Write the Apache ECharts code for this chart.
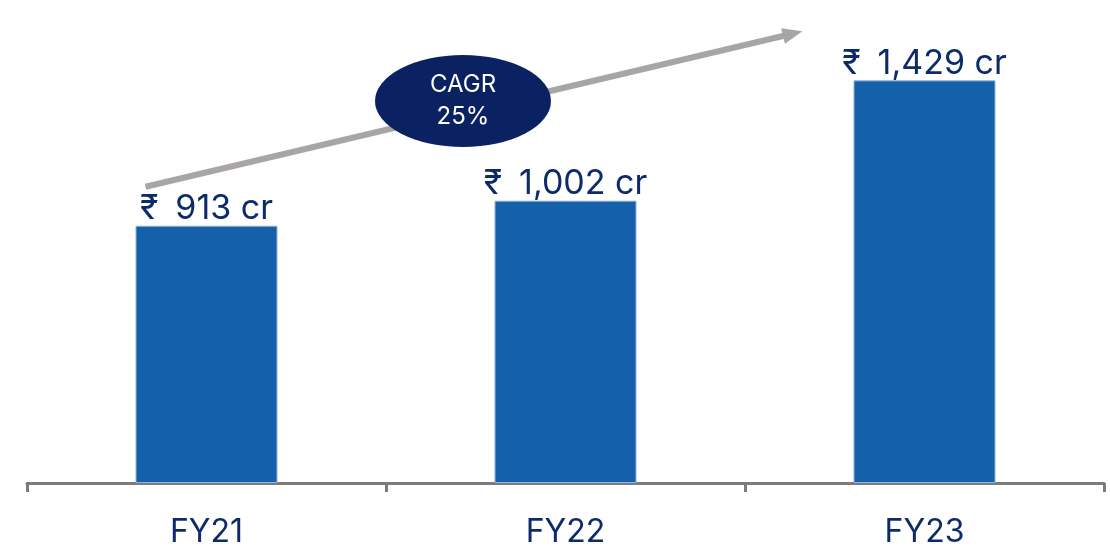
<!DOCTYPE html>
<html>
<head>
<meta charset="utf-8">
<script src="https://cdn.jsdelivr.net/npm/echarts@6/dist/echarts.min.js"></script>
<style>
  html, body { margin: 0; padding: 0; background: #fff; }
  #chart { width: 1110px; height: 549px; }
</style>
</head>
<body>
<div id="chart"></div>
<script>
var categories = ["FY21", "FY22", "FY23"];
var revenue = [913, 1002, 1429];
var cagrText = ["CAGR", "25%"];

var navy = "#0d2a6b";

function fmt(v) {
  return String(v).replace(/\B(?=(\d{3})+(?!\d))/g, ",");
}

var chart = echarts.init(document.getElementById("chart"));

chart.setOption({
  animation: false,
  grid: { left: 27, right: 6, top: 4, bottom: 66 },
  xAxis: {
    type: "category",
    data: categories,
    axisLine: { lineStyle: { color: "#7f7b7b", width: 3 } },
    axisTick: { show: true, length: 9, lineStyle: { color: "#7f7b7b", width: 3 } },
    axisLabel: {
      color: navy,
      fontSize: 32,
      fontFamily: "Inter",
      margin: 33
    }
  },
  yAxis: {
    type: "value",
    min: 0,
    max: 1700,
    show: false,
    splitLine: { show: false }
  },
  series: [
    {
      type: "bar",
      data: revenue,
      barWidth: 142,
      itemStyle: { color: "#1460aa", borderColor: "#8fb3dc", borderWidth: 1 },
      label: {
        show: true,
        position: "top",
        distance: 0,
        color: navy,
        fontSize: 34,
        fontFamily: "Inter",
        // en space after the rupee sign, the source sets it a bit wider
        formatter: function (p) { return "₹\u2002" + fmt(p.value) + " cr"; }
      }
    }
  ]
});

// growth arrow + CAGR badge, anchored on the bars
var p0 = chart.convertToPixel({ seriesIndex: 0 }, [0, revenue[0]]);
var p2 = chart.convertToPixel({ seriesIndex: 0 }, [2, revenue[2]]);
var x0 = p0[0] - 61, y0 = p0[1] - 39;
var tipX = p2[0] - 122, tipY = p2[1] - 49;
var dx = tipX - x0, dy = tipY - y0;
var len = Math.sqrt(dx * dx + dy * dy);
var ux = dx / len, uy = dy / len;
var headLen = 20, headW = 8;
var bx = tipX - ux * headLen, by = tipY - uy * headLen;
var cx = 463, cy = 101;

chart.setOption({
  graphic: [
    {
      type: "line",
      shape: { x1: x0, y1: y0, x2: bx + ux * 2, y2: by + uy * 2 },
      style: { stroke: "#a9a5a5", lineWidth: 6 },
      z: 1
    },
    {
      type: "polygon",
      shape: {
        points: [
          [tipX, tipY],
          [bx - uy * headW, by + ux * headW],
          [bx + uy * headW, by - ux * headW]
        ]
      },
      style: { fill: "#a9a5a5" },
      z: 1
    },
    {
      type: "circle",
      x: cx,
      y: cy,
      scaleX: 88 / 46,
      shape: { cx: 0, cy: 0, r: 46 },
      style: { fill: "#0b2262" },
      z: 2
    },
    {
      type: "text",
      x: cx,
      y: cy,
      style: {
        text: cagrText.join("\n"),
        fill: "#fff",
        font: "24px Inter",
        align: "center",
        verticalAlign: "middle",
        lineHeight: 32
      },
      z: 3
    }
  ]
});
</script>
</body>
</html>
